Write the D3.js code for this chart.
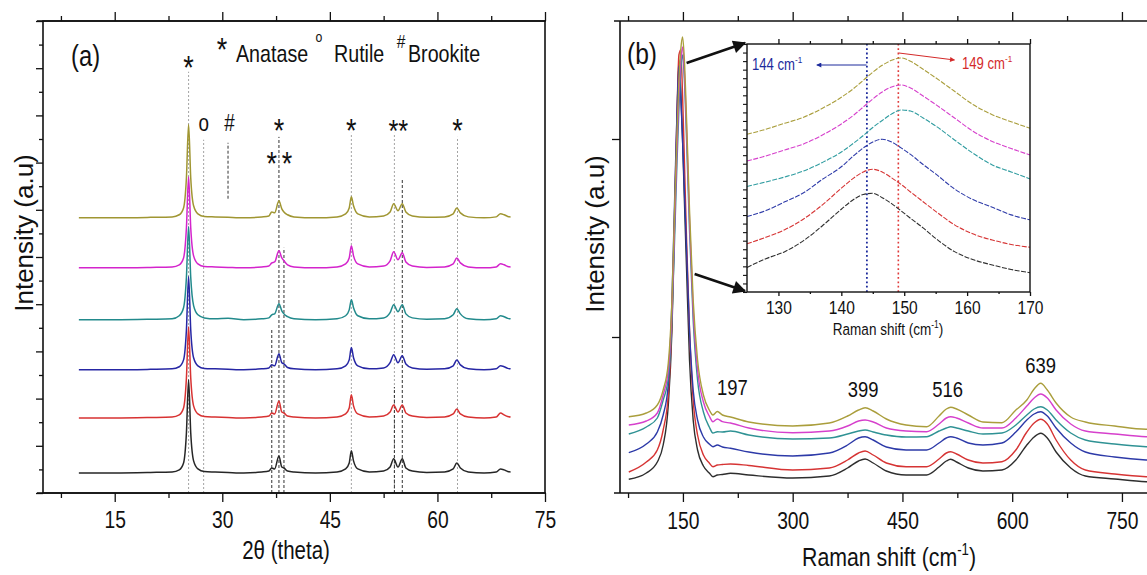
<!DOCTYPE html>
<html><head><meta charset="utf-8">
<script src="https://cdn.jsdelivr.net/npm/d3@7"></script>
<style>
html,body{margin:0;padding:0;background:#fff;}
svg{display:block;}
</style></head><body>
<svg id="c" width="1147" height="575"></svg>
<script>
// ---------------- (a) XRD data ----------------
const xrdTheta = [10,15,20,23,24,24.6,25.0,25.3,25.6,26.0,26.6,27.5,29,30.8,33,35.5,36.5,36.9,37.3,37.9,38.3,38.6,39.1,40,43,46,47.2,47.7,48.0,48.3,48.9,50.5,52.5,53.4,53.9,54.5,55.1,55.6,56.5,58.5,61,62.2,62.7,63.2,64.3,66.5,68.2,68.8,69.3,69.8,70.2];
// stacking offsets (black, red, blue, teal, magenta, olive)
const xrdOffset = [85,318,522,734,954,1166];
const xrdBlack   = [0,0,2,4,13,42,170,395,170,51,17,6,4,2,0,4,8,21,17,72,25,21,8,4,0,4,17,42,94,51,17,4,8,25,60,25,60,21,8,2,4,17,42,21,4,0,4,17,13,6,4];
const xrdRed     = [0,0,2,4,13,42,170,386,170,51,17,6,4,2,0,4,8,21,17,72,25,21,8,4,0,4,17,42,98,51,17,4,8,25,55,25,55,21,8,2,4,17,38,17,4,0,4,21,13,6,4];
const xrdBlue    = [0,0,2,4,13,42,170,395,170,51,17,6,4,2,0,4,8,21,17,68,30,25,10,4,0,4,17,42,94,51,17,4,8,30,64,30,60,25,8,2,4,17,42,21,4,0,4,17,13,6,4];
const xrdTeal    = [0,0,2,4,17,51,180,395,180,60,21,8,4,6,0,4,8,21,25,68,38,25,13,4,0,4,17,42,85,51,17,4,8,30,64,34,64,25,8,2,4,21,47,25,4,0,4,17,13,6,4];
const xrdMagenta = [0,0,2,4,13,42,170,386,170,51,17,6,4,2,0,4,8,21,25,72,42,30,13,4,0,4,17,42,94,51,17,4,8,30,68,34,64,25,8,2,4,17,42,21,4,0,4,17,13,6,4];
const xrdOlive   = [0,0,2,4,13,42,170,395,170,51,17,6,4,2,0,4,8,25,21,72,38,25,13,4,0,4,17,42,89,51,17,4,8,25,60,30,60,25,8,2,4,17,42,21,4,0,4,17,13,6,4];
const xrdXTicks = [15,30,45,60,75];
const xrdXMinor = [7.5,22.5,37.5,52.5,67.5];
// reference (phase) lines
const refTheta = [25.3,27.4,30.8,36.9,37.9,38.6,48.0,54.0,54.0,55.1,62.8];
const refFrom  = [0,0,1247,0,0,0,0,0,0,0,0];
const refTo    = [1785,1497,1484,695,1509,1039,1526,1526,449,1331,1509];
const refDark  = [0,0,1,1,1,1,0,0,1,1,0];
// peak markers
const markTheta = [27.4,30.8,37.9,48.0,54.55,62.8,36.9,38.6,25.3];
const markSym   = ["o","#","*","*","**","*","*","*","*"];

// ---------------- (b) Raman data ----------------
const ramanShift = [76,100,115,123,130,135,139,142,144.5,147,149.5,152,155,159,164,170,178,186,191,197,204,215,240,300,350,375,390,399,410,428,455,483,500,510,516,524,540,560,586,605,620,630,639,648,660,680,700,740,783,802];
const ramanOlive   = [763,800,880,1030,1300,1930,2930,3630,4130,4430,4560,4330,3730,2830,1930,1330,980,830,780,815,780,760,710,670,700,770,830,853,820,740,680,663,770,840,857,840,780,710,703,830,930,1040,1097,1030,900,760,710,670,637,635];
const ramanMagenta = [680,720,800,980,1230,1830,2780,3480,3980,4310,4460,4210,3630,2730,1830,1230,910,770,713,740,713,700,650,603,620,670,720,730,710,650,620,613,690,750,763,750,700,650,650,750,870,950,990,950,830,690,620,590,563,560];
const ramanTeal    = [590,660,750,930,1150,1730,2630,3330,3830,4210,4380,4130,3530,2630,1730,1130,810,660,600,613,610,620,580,540,550,590,620,630,610,580,560,563,620,650,663,650,620,590,600,680,780,840,863,830,730,600,530,490,463,460];
const ramanBlue    = [403,490,610,780,1080,1930,3030,3830,4270,3980,3530,3030,2430,1630,1030,730,560,490,463,480,460,447,410,370,400,480,550,563,530,460,430,430,500,550,563,550,500,480,500,610,730,790,813,770,650,500,410,360,330,325];
const ramanRed     = [210,310,430,630,980,1730,2930,3830,4380,4430,3980,3330,2530,1630,930,580,380,300,263,280,285,290,275,230,250,330,400,420,380,300,263,263,340,400,413,390,330,300,313,430,610,700,737,690,530,330,230,190,163,160];
const ramanBlack   = [137,200,310,480,880,1630,2830,3730,4330,4030,3530,2930,2230,1330,730,430,270,200,163,180,185,197,180,150,170,250,320,340,300,220,180,180,260,320,337,310,250,220,230,330,480,560,597,550,410,250,170,140,113,110];
const ramanXTicks = [150,300,450,600,750];
const ramanXMinor = [75,225,375,525,675];
const ramanYTicks = [1560,3540];
const ramanPeaks = [197,399,516,639];

// ---------------- (b) inset data ----------------
const insetShift = [125,128,131,134,137,140,142,143.5,145,146.5,148,149.5,151,153,155,158,161,164,167,170];
const insetOlive   = [18.44,19.03,19.73,20.43,21.49,22.77,23.82,24.76,25.70,26.51,27.10,27.37,26.98,26.05,25.05,23.47,21.89,20.73,19.91,19.15];
const insetMagenta = [15.32,15.91,16.61,17.31,18.36,19.65,20.70,21.64,22.57,23.39,23.98,24.21,23.86,22.92,21.93,20.35,18.77,17.60,16.78,16.02];
const insetTeal    = [12.34,12.87,13.45,14.15,15.15,16.37,17.43,18.30,19.24,20.06,20.82,21.29,21.17,20.35,19.42,17.78,16.20,14.85,14.04,13.22];
const insetBlue    = [8.83,9.52,10.54,11.60,13.18,14.64,15.96,16.85,17.54,17.86,17.54,16.85,16.09,14.91,13.81,12.05,10.78,9.91,9.02,8.44];
const insetRed     = [5.64,6.40,7.28,8.54,10.19,12.14,13.35,14.04,14.35,14.04,13.35,12.58,11.70,10.56,9.43,7.85,6.77,6.08,5.56,5.23];
const insetBlack   = [2.87,3.89,4.72,6.01,7.75,9.68,10.84,11.41,11.54,11.03,10.33,9.49,8.62,7.50,6.27,4.72,3.77,3.16,2.63,2.26];
const insetXTicks = [130,140,150,160,170];
const insetXMinor = [135,145,155,165];
const insetMarks = [144,149];

// ---------------- drawing ----------------
const FONT = "'Liberation Sans', Arial, Helvetica, sans-serif";
const SX = 0.82;   // horizontal squeeze of the original figure
const INK = "#111";
const svg = d3.select("#c").attr("font-family", FONT);
svg.append("rect").attr("width",1147).attr("height",575).attr("fill","#fff");

function addText(parent, x, y, parts, size, opts = {}) {
  const tr = opts.rotate
    ? `translate(${x},${y}) rotate(${opts.rotate})`
    : `translate(${x},${y}) scale(${SX},1)`;
  const g = parent.append("g").attr("transform", tr);
  const t = g.append("text").attr("font-size", size)
    .attr("text-anchor", opts.anchor || "start")
    .attr("fill", opts.fill || INK);
  if (typeof parts === "string") parts = [{t: parts}];
  let prevSup = false;
  parts.forEach(p => {
    const ts = t.append("tspan").text(p.t);
    if (p.sup) { ts.attr("font-size", size * 0.62).attr("dy", -size * 0.42); prevSup = true; }
    else if (prevSup) { ts.attr("dy", size * 0.42); prevSup = false; }
  });
  return t;
}
function styleAxis(g, fs, ty) {
  g.select(".domain").remove();
  g.selectAll(".tick line").attr("stroke", INK).attr("stroke-width", 1.3);
  g.selectAll(".tick text").attr("font-size", fs).attr("fill", INK)
    .attr("font-family", FONT).attr("transform", `scale(${SX},1)`);
  if (ty !== undefined) g.selectAll(".tick text").attr("y", ty).attr("dy", 0);
}

const defs = svg.append("defs");
function marker(id, w, h, color) {
  defs.append("marker").attr("id", id).attr("viewBox", "0 0 10 10")
    .attr("refX", 9).attr("refY", 5).attr("markerUnits", "userSpaceOnUse")
    .attr("markerWidth", w).attr("markerHeight", h).attr("orient", "auto")
    .append("path").attr("d", "M0,0 L10,5 L0,10 Z").attr("fill", color);
}
marker("ahBlack", 17, 13, "#111");
marker("ahBlue", 7, 5, "#1c2a9c");
marker("ahRed", 7, 5, "#d42a2a");

// ===== Panel (a) =====
const xA = d3.scaleLinear().domain([5, 75]).range([43, 545]);
const yA = d3.scaleLinear().domain([0, 2000]).range([493, 21]);
const gA = svg.append("g");

refTheta.forEach((t, i) => {
  gA.append("line")
    .attr("x1", xA(t)).attr("x2", xA(t))
    .attr("y1", yA(refFrom[i])).attr("y2", yA(refTo[i]))
    .attr("stroke", refDark[i] ? "#333" : "#9a9a9a")
    .attr("stroke-width", refDark[i] ? 1 : 0.9)
    .attr("stroke-dasharray", refDark[i] ? "3,2" : "2,2");
});

const xrdSeries = [
  {v: xrdBlack,   off: xrdOffset[0], c: "#262626"},
  {v: xrdRed,     off: xrdOffset[1], c: "#d83232"},
  {v: xrdBlue,    off: xrdOffset[2], c: "#2626a4"},
  {v: xrdTeal,    off: xrdOffset[3], c: "#228a8c"},
  {v: xrdMagenta, off: xrdOffset[4], c: "#d424cc"},
  {v: xrdOlive,   off: xrdOffset[5], c: "#a09632"}
];
const lineA = d3.line().x(d => xA(d[0])).y(d => yA(d[1])).curve(d3.curveMonotoneX);
xrdSeries.forEach(s => {
  gA.append("path").datum(xrdTheta.map((t, i) => [t, s.off + s.v[i]]))
    .attr("d", lineA).attr("fill", "none").attr("stroke", s.c).attr("stroke-width", 1.5);
});

gA.append("rect").attr("x", 43).attr("y", 21).attr("width", 502).attr("height", 472)
  .attr("fill", "none").attr("stroke", INK).attr("stroke-width", 1.6);
gA.append("line").attr("x1", 37).attr("x2", 546).attr("y1", 493).attr("y2", 493).attr("stroke", INK).attr("stroke-width", 1.6);
gA.append("line").attr("x1", 37).attr("x2", 546).attr("y1", 21).attr("y2", 21).attr("stroke", INK).attr("stroke-width", 1.6);

gA.append("g").attr("transform", "translate(0,493)")
  .call(d3.axisBottom(xA).tickValues(xrdXTicks).tickSize(9).tickSizeOuter(0).tickFormat(d3.format("d")))
  .call(g => styleAxis(g, 23.5, 35));
gA.append("g").attr("transform", "translate(0,493)")
  .call(d3.axisBottom(xA).tickValues(xrdXMinor).tickSize(5).tickSizeOuter(0).tickFormat(""))
  .call(g => styleAxis(g, 0));
gA.append("g").attr("transform", "translate(0,21)")
  .call(d3.axisTop(xA).tickValues(xrdXTicks).tickSize(9).tickSizeOuter(0).tickFormat(""))
  .call(g => styleAxis(g, 0));
gA.append("g").attr("transform", "translate(0,21)")
  .call(d3.axisTop(xA).tickValues(xrdXMinor).tickSize(5).tickSizeOuter(0).tickFormat(""))
  .call(g => styleAxis(g, 0));
gA.append("g").attr("transform", "translate(43,0)")
  .call(d3.axisLeft(yA).tickValues(d3.range(0, 2001, 200)).tickSize(7).tickSizeOuter(0).tickFormat(""))
  .call(g => styleAxis(g, 0));
gA.append("g").attr("transform", "translate(43,0)")
  .call(d3.axisLeft(yA).tickValues(d3.range(100, 2000, 200)).tickSize(4).tickSizeOuter(0).tickFormat(""))
  .call(g => styleAxis(g, 0));

addText(gA, 71, 66, "(a)", 29);
addText(gA, 222, 61, "*", 33, {anchor: "middle"});
addText(gA, 236, 62, "Anatase", 24);
addText(gA, 319, 42, "o", 15, {anchor: "middle"});
addText(gA, 334, 62, "Rutile", 24);
addText(gA, 401, 48, "#", 19, {anchor: "middle"});
addText(gA, 408, 62, "Brookite", 24);
markTheta.forEach((t, i) => {
  const s = markSym[i];
  const star = s.indexOf("*") >= 0;
  let y, fs;
  if (i < 6) { y = star ? 142 : 131; fs = star ? (s.length > 1 ? 31 : 33) : 23; }
  else if (i < 8) { y = 175; fs = 33; }
  else { y = 79; fs = 33; }
  const dx = (i === 7) ? 3 : (i === 1 ? 1.5 : 0);
  addText(gA, xA(t) + dx, y, s, fs, {anchor: "middle"});
});
addText(gA, 286, 559, [{t: "2"}, {t: "θ"}, {t: " (theta)"}], 25, {anchor: "middle"});
addText(gA, 32.5, 233, "Intensity (a.u)", 26, {anchor: "middle", rotate: -90});

// ===== Panel (b) =====
const xB = d3.scaleLinear().domain([64, 802]).range([620, 1160]);
const yB = d3.scaleLinear().domain([0, 4720]).range([493, 21]);
const gB = svg.append("g");
defs.append("clipPath").attr("id", "clipB").append("rect")
  .attr("x", 620).attr("y", 21).attr("width", 540).attr("height", 472);

const ramanSeries = [
  {v: ramanBlack,   c: "#2e2e2e"},
  {v: ramanRed,     c: "#d63434"},
  {v: ramanBlue,    c: "#2d3aa8"},
  {v: ramanTeal,    c: "#2f9294"},
  {v: ramanMagenta, c: "#d640cc"},
  {v: ramanOlive,   c: "#aa9e3c"}
];
const lineB = d3.line().x(d => xB(d[0])).y(d => yB(d[1])).curve(d3.curveMonotoneX);
const gBdata = gB.append("g").attr("clip-path", "url(#clipB)");
ramanSeries.forEach(s => {
  gBdata.append("path").datum(ramanShift.map((x, i) => [x, s.v[i]]))
    .attr("d", lineB).attr("fill", "none").attr("stroke", s.c).attr("stroke-width", 1.4);
});

gB.append("line").attr("x1", 620).attr("x2", 620).attr("y1", 21).attr("y2", 493).attr("stroke", INK).attr("stroke-width", 1.6);
gB.append("line").attr("x1", 614).attr("x2", 1147).attr("y1", 493).attr("y2", 493).attr("stroke", INK).attr("stroke-width", 1.6);
gB.append("line").attr("x1", 614).attr("x2", 1147).attr("y1", 21).attr("y2", 21).attr("stroke", INK).attr("stroke-width", 1.6);

gB.append("g").attr("transform", "translate(0,493)")
  .call(d3.axisBottom(xB).tickValues(ramanXTicks).tickSize(9).tickSizeOuter(0).tickFormat(d3.format("d")))
  .call(g => styleAxis(g, 23.5, 36));
gB.append("g").attr("transform", "translate(0,493)")
  .call(d3.axisBottom(xB).tickValues(ramanXMinor).tickSize(5).tickSizeOuter(0).tickFormat(""))
  .call(g => styleAxis(g, 0));
gB.append("g").attr("transform", "translate(0,21)")
  .call(d3.axisTop(xB).tickValues(ramanXTicks).tickSize(9).tickSizeOuter(0).tickFormat(""))
  .call(g => styleAxis(g, 0));
gB.append("g").attr("transform", "translate(0,21)")
  .call(d3.axisTop(xB).tickValues(ramanXMinor).tickSize(5).tickSizeOuter(0).tickFormat(""))
  .call(g => styleAxis(g, 0));
gB.append("g").attr("transform", "translate(620,0)")
  .call(d3.axisLeft(yB).tickValues(ramanYTicks).tickSize(8).tickSizeOuter(0).tickFormat(""))
  .call(g => styleAxis(g, 0));

addText(gB, 627, 64, "(b)", 30);
const peakDx = [15, -2, -3, 0];
const peakY = [395, 397, 397, 373];
ramanPeaks.forEach((p, i) => addText(gB, xB(p) + peakDx[i], peakY[i], String(p), 22.5, {anchor: "middle"}));
addText(gB, 889, 566, [{t: "Raman shift (cm"}, {t: "-1", sup: true}, {t: ")"}], 26, {anchor: "middle"});
addText(gB, 603.5, 234, "Intensity (a.u)", 26, {anchor: "middle", rotate: -90});

// ===== Inset =====
const xI = d3.scaleLinear().domain([125, 170]).range([747, 1030]);
const yI = d3.scaleLinear().domain([0, 29]).range([292, 44]);
const gI = svg.append("g");
gI.append("rect").attr("x", 747).attr("y", 44).attr("width", 283).attr("height", 248).attr("fill", "#fff");
gI.append("line").attr("x1", xI(insetMarks[0]) + 0.4).attr("x2", xI(insetMarks[0]) + 0.4)
  .attr("y1", yI(0)).attr("y2", yI(29)).attr("stroke", "#1c2a9c").attr("stroke-width", 1.8).attr("stroke-dasharray", "1.8,2.6");
gI.append("line").attr("x1", xI(insetMarks[1]) + 0.4).attr("x2", xI(insetMarks[1]) + 0.4)
  .attr("y1", yI(0)).attr("y2", yI(29)).attr("stroke", "#e03a3a").attr("stroke-width", 1.6).attr("stroke-dasharray", "1.8,2.6");

const insetSeries = [
  {v: insetBlack,   c: "#2e2e2e"},
  {v: insetRed,     c: "#d63434"},
  {v: insetBlue,    c: "#2d3aa8"},
  {v: insetTeal,    c: "#2f9ca0"},
  {v: insetMagenta, c: "#d640cc"},
  {v: insetOlive,   c: "#aa9e3c"}
];
const lineI = d3.line().x(d => xI(d[0])).y(d => yI(d[1])).curve(d3.curveMonotoneX);
insetSeries.forEach(s => {
  gI.append("path").datum(insetShift.map((x, i) => [x, s.v[i]]))
    .attr("d", lineI).attr("fill", "none").attr("stroke", s.c).attr("stroke-width", 1.1)
    .attr("stroke-dasharray", "5,1.5");
});

gI.append("rect").attr("x", 747).attr("y", 44).attr("width", 283).attr("height", 248)
  .attr("fill", "none").attr("stroke", INK).attr("stroke-width", 1.4);
gI.append("g").attr("transform", "translate(0,292)")
  .call(d3.axisBottom(xI).tickValues(insetXTicks).tickSize(4).tickSizeOuter(0).tickFormat(d3.format("d")))
  .call(g => styleAxis(g, 19, 22));
gI.append("g").attr("transform", "translate(0,292)")
  .call(d3.axisBottom(xI).tickValues(insetXMinor).tickSize(2).tickSizeOuter(0).tickFormat(""))
  .call(g => styleAxis(g, 0));
gI.append("g").attr("transform", "translate(0,44)")
  .call(d3.axisTop(xI).tickValues(insetXTicks).tickSize(5).tickSizeOuter(0).tickFormat(""))
  .call(g => styleAxis(g, 0));
gI.append("g").attr("transform", "translate(0,44)")
  .call(d3.axisTop(xI).tickValues(insetXMinor).tickSize(3).tickSizeOuter(0).tickFormat(""))
  .call(g => styleAxis(g, 0));
gI.append("g").attr("transform", "translate(747,0)")
  .call(d3.axisLeft(yI).tickValues(d3.range(0, 30, 1)).tickSize(4).tickSizeOuter(0).tickFormat(""))
  .call(g => { styleAxis(g, 0); g.selectAll(".tick line").attr("stroke-width", 1.1); });
addText(gI, 888, 335, [{t: "Raman shift (cm"}, {t: "-1", sup: true}, {t: ")"}], 16.5, {anchor: "middle"});

addText(gI, 752, 70, [{t: "144 cm"}, {t: "-1", sup: true}], 16, {fill: "#1c2a9c"});
addText(gI, 962, 68.5, [{t: "149 cm"}, {t: "-1", sup: true}], 16, {fill: "#d42a2a"});
gI.append("line").attr("x1", xI(insetMarks[0])).attr("y1", 65).attr("x2", xI(136.1)).attr("y2", 65)
  .attr("stroke", "#1c2a9c").attr("stroke-width", 1).attr("marker-end", "url(#ahBlue)");
gI.append("line").attr("x1", xI(insetMarks[1]) + 1).attr("y1", 53).attr("x2", xI(158)).attr("y2", 60)
  .attr("stroke", "#d42a2a").attr("stroke-width", 1).attr("marker-end", "url(#ahRed)");

svg.append("line").attr("x1", xB(155)).attr("y1", 63).attr("x2", xI(125) - 2).attr("y2", yI(29) - 1)
  .attr("stroke", "#111").attr("stroke-width", 2.6).attr("marker-end", "url(#ahBlack)");
svg.append("line").attr("x1", xB(166)).attr("y1", 274).attr("x2", xI(125) - 2).attr("y2", yI(0) - 1)
  .attr("stroke", "#111").attr("stroke-width", 2.6).attr("marker-end", "url(#ahBlack)");
</script>
</body></html>
